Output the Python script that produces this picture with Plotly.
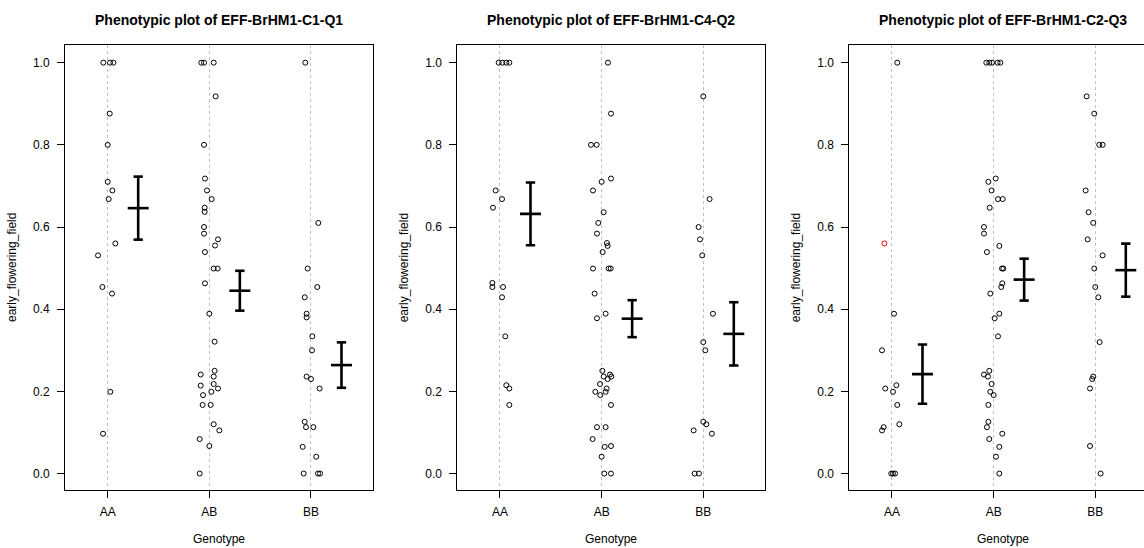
import plotly.graph_objects as go

# ---------------- data ----------------
genotypes = ["AA", "AB", "BB"]
titles = ["Phenotypic plot of EFF-BrHM1-C1-Q1",
          "Phenotypic plot of EFF-BrHM1-C4-Q2",
          "Phenotypic plot of EFF-BrHM1-C2-Q3"]
y_label = "early_flowering_field"
x_label = "Genotype"
y_ticks = [0.0, 0.2, 0.4, 0.6, 0.8, 1.0]

# Panel 1: C1-Q1
q1_AA = [1.0, 1.0, 1.0, 0.876, 0.800, 0.710, 0.689, 0.668, 0.560, 0.531, 0.454, 0.438, 0.199, 0.097]
q1_AB = [1.0, 1.0, 1.0, 0.918, 0.800, 0.718, 0.689, 0.668, 0.647, 0.637, 0.600, 0.584, 0.570, 0.555,
         0.539, 0.499, 0.499, 0.463, 0.389, 0.321, 0.250, 0.241, 0.236, 0.214, 0.218, 0.207, 0.199,
         0.191, 0.167, 0.167, 0.120, 0.105, 0.084, 0.067, 0.0]
q1_BB = [1.0, 0.610, 0.499, 0.454, 0.429, 0.389, 0.380, 0.334, 0.300, 0.236, 0.230, 0.207, 0.126,
         0.113, 0.113, 0.065, 0.041, 0.0, 0.0, 0.0]
q1_mean = [0.646, 0.445, 0.264]
q1_se = [0.0767, 0.0485, 0.0553]

# Panel 2: C4-Q2
q2_AA = [1.0, 1.0, 1.0, 1.0, 0.689, 0.668, 0.647, 0.464, 0.454, 0.454, 0.429, 0.334, 0.215, 0.207, 0.167]
q2_AB = [1.0, 0.876, 0.800, 0.800, 0.718, 0.710, 0.689, 0.636, 0.610, 0.584, 0.561, 0.554, 0.539,
         0.499, 0.499, 0.499, 0.438, 0.389, 0.378, 0.250, 0.236, 0.241, 0.236, 0.230, 0.218, 0.207,
         0.199, 0.199, 0.191, 0.167, 0.113, 0.113, 0.084, 0.067, 0.065, 0.041, 0.0, 0.0]
q2_BB = [0.918, 0.668, 0.600, 0.570, 0.531, 0.389, 0.320, 0.300, 0.126, 0.120, 0.105, 0.097, 0.0, 0.0]
q2_mean = [0.632, 0.377, 0.340]
q2_se = [0.0765, 0.045, 0.077]

# Panel 3: C2-Q3
q3_AA = [1.0, 0.389, 0.300, 0.207, 0.199, 0.215, 0.167, 0.120, 0.113, 0.105, 0.0, 0.0, 0.0]
q3_AA_imputed = [0.560]
q3_AB = [1.0, 1.0, 1.0, 1.0, 1.0, 0.718, 0.710, 0.689, 0.668, 0.668, 0.647, 0.600, 0.584, 0.554,
         0.539, 0.499, 0.499, 0.463, 0.454, 0.438, 0.389, 0.378, 0.334, 0.250, 0.241, 0.236, 0.218,
         0.199, 0.191, 0.167, 0.126, 0.113, 0.097, 0.084, 0.065, 0.041, 0.0]
q3_BB = [0.918, 0.876, 0.800, 0.800, 0.689, 0.636, 0.610, 0.570, 0.531, 0.499, 0.454, 0.429, 0.320,
         0.236, 0.230, 0.207, 0.067, 0.0]
q3_mean = [0.242, 0.472, 0.495]
q3_se = [0.072, 0.051, 0.0645]

# ---------------- horizontal jitter (position, kept apart from values) ----------------
j1_AA = [-0.043, 0.023, 0.056, 0.020, 0.000, 0.000, 0.046, 0.010, 0.075, -0.095, -0.052, 0.043, 0.026, -0.046]
j1_AB = [-0.079, -0.052, 0.043, 0.062, -0.052, -0.043, -0.023, 0.023, -0.046, -0.046, -0.052, -0.052,
         0.085, 0.056, -0.043, 0.043, 0.082, -0.043, 0.000, 0.052, 0.052, -0.085, 0.043, -0.085, 0.043,
         0.085, 0.020, -0.062, -0.066, 0.013, 0.043, 0.098, -0.095, 0.000, -0.095]
j1_BB = [-0.056, 0.072, -0.033, 0.062, -0.062, -0.043, -0.043, 0.013, 0.010, -0.043, 0.000, 0.085,
         -0.062, -0.049, 0.023, -0.082, 0.052, -0.072, 0.069, 0.089]
j2_AA = [-0.013, 0.023, 0.062, 0.092, -0.043, 0.020, -0.069, -0.075, -0.075, 0.030, 0.020, 0.052, 0.062, 0.092, 0.092]
j2_AB = [0.062, 0.092, -0.105, -0.049, 0.092, 0.000, -0.085, 0.020, -0.033, -0.046, 0.052, 0.059, 0.010,
         -0.085, 0.069, 0.089, -0.069, 0.039, -0.046, 0.007, 0.020, 0.082, 0.095, 0.059, -0.016, 0.049,
         -0.062, 0.039, -0.013, 0.092, -0.046, 0.039, -0.089, 0.092, 0.030, 0.000, 0.026, 0.092]
j2_BB = [0.000, 0.062, -0.046, -0.033, -0.010, 0.095, 0.000, 0.020, 0.000, 0.030, -0.095, 0.085, -0.085, -0.043]
j3_AA = [0.052, 0.020, -0.098, -0.066, 0.010, 0.043, 0.052, 0.072, -0.082, -0.098, -0.007, 0.010, 0.030]
j3_AA_imputed = [-0.075]
j3_AB = [-0.072, -0.043, -0.016, 0.039, 0.066, 0.020, -0.052, -0.020, 0.043, 0.089, -0.039, -0.095,
         -0.095, 0.056, -0.066, 0.082, 0.095, 0.085, 0.075, -0.033, 0.056, 0.010, 0.043, -0.043, -0.095,
         -0.056, -0.020, -0.033, 0.000, -0.052, -0.052, -0.066, 0.085, -0.043, 0.056, 0.023, 0.056]
j3_BB = [-0.085, -0.010, 0.039, 0.072, -0.095, -0.066, -0.020, -0.075, 0.072, -0.010, 0.000, 0.030,
         0.043, -0.020, -0.030, -0.052, -0.052, 0.052]

panels = [
    dict(vals=[q1_AA, q1_AB, q1_BB], jit=[j1_AA, j1_AB, j1_BB], mean=q1_mean, se=q1_se, imp=None),
    dict(vals=[q2_AA, q2_AB, q2_BB], jit=[j2_AA, j2_AB, j2_BB], mean=q2_mean, se=q2_se, imp=None),
    dict(vals=[q3_AA, q3_AB, q3_BB], jit=[j3_AA, j3_AB, j3_BB], mean=q3_mean, se=q3_se,
         imp=(0, q3_AA_imputed, j3_AA_imputed)),
]

# ---------------- layout geometry ----------------
W, H = 1144, 548
panel_left_px = [65, 457.3, 849.3]
panel_w_px = 308
x_lo, x_hi = 0.58, 3.61
y_lo, y_hi = -0.04, 1.043
y_dom = [1 - 490 / H, 1 - 45 / H]
bar_off = 0.30
cap_half = 0.046
mean_half = 0.103
font_fam = "Liberation Sans, Arial, sans-serif"

fig = go.Figure()
layout_axes = {}

for i, p in enumerate(panels):
    ax = "" if i == 0 else str(i + 1)
    xref, yref = "x" + ax, "y" + ax
    left = panel_left_px[i]
    right = left + panel_w_px
    if right > W:
        x_max = x_lo + (W - left) / panel_w_px * (x_hi - x_lo)
        right = W
    else:
        x_max = x_hi
    dom = [left / W, right / W]

    for g in range(3):
        xs = [g + 1 + d for d in p["jit"][g]]
        fig.add_trace(go.Scatter(
            x=xs, y=p["vals"][g], mode="markers", xaxis=xref, yaxis=yref,
            marker=dict(symbol="circle-open", size=5, color="black", line=dict(width=1)),
            showlegend=False, hoverinfo="x+y"))
    if p["imp"] is not None:
        g, v, j = p["imp"]
        fig.add_trace(go.Scatter(
            x=[g + 1 + d for d in j], y=v, mode="markers", xaxis=xref, yaxis=yref,
            marker=dict(symbol="circle-open", size=5, color="#FF0000", line=dict(width=1)),
            showlegend=False))

    # mean +/- SE bars
    bx, by = [], []
    for g in range(3):
        c = g + 1 + bar_off
        m, s = p["mean"][g], p["se"][g]
        bx += [c, c, None, c - cap_half, c + cap_half, None, c - cap_half, c + cap_half, None,
               c - mean_half, c + mean_half, None]
        by += [m - s, m + s, None, m + s, m + s, None, m - s, m - s, None, m, m, None]
    fig.add_trace(go.Scatter(x=bx, y=by, mode="lines", xaxis=xref, yaxis=yref,
                             line=dict(color="black", width=2.6), showlegend=False,
                             hoverinfo="skip"))

    layout_axes["xaxis" + ax] = dict(
        domain=dom, range=[x_lo, x_max], tickvals=[1, 2, 3], ticktext=genotypes,
        showgrid=True, gridcolor="#c0c0c0", griddash="dot", gridwidth=1,
        zeroline=False, showline=True, linecolor="black", linewidth=1, mirror=True,
        ticks="outside", ticklen=7, tickcolor="black", tickwidth=1,
        tickfont=dict(size=12, color="black", family=font_fam), anchor=yref,
        ticklabelstandoff=4)
    layout_axes["yaxis" + ax] = dict(
        domain=y_dom, range=[y_lo, y_hi], tickvals=y_ticks, tickformat=".1f",
        showgrid=False, zeroline=False, showline=True, linecolor="black", linewidth=1,
        mirror=(right < W), ticks="outside", ticklen=7, tickcolor="black", tickwidth=1,
        tickfont=dict(size=12, color="black", family=font_fam), anchor=xref,
        ticklabelstandoff=5)

    cx = (left + panel_w_px / 2) / W
    fig.add_annotation(text="<b>" + titles[i] + "</b>", xref="paper", yref="paper",
                       x=cx, y=1 - 20 / H, xanchor="center", yanchor="middle", showarrow=False,
                       font=dict(size=14, color="black", family=font_fam))
    fig.add_annotation(text=x_label, xref="paper", yref="paper",
                       x=cx, y=1 - 539 / H, xanchor="center", yanchor="middle", showarrow=False,
                       font=dict(size=12, color="black", family=font_fam))
    fig.add_annotation(text=y_label, xref="paper", yref="paper", textangle=-90,
                       x=(left - 53) / W, y=1 - 268 / H, xanchor="center", yanchor="middle",
                       showarrow=False, font=dict(size=12, color="black", family=font_fam))

fig.update_layout(width=W, height=H, margin=dict(l=0, r=0, t=0, b=0),
                  plot_bgcolor="white", paper_bgcolor="white", showlegend=False,
                  **layout_axes)

fig.write_html("out.html")
